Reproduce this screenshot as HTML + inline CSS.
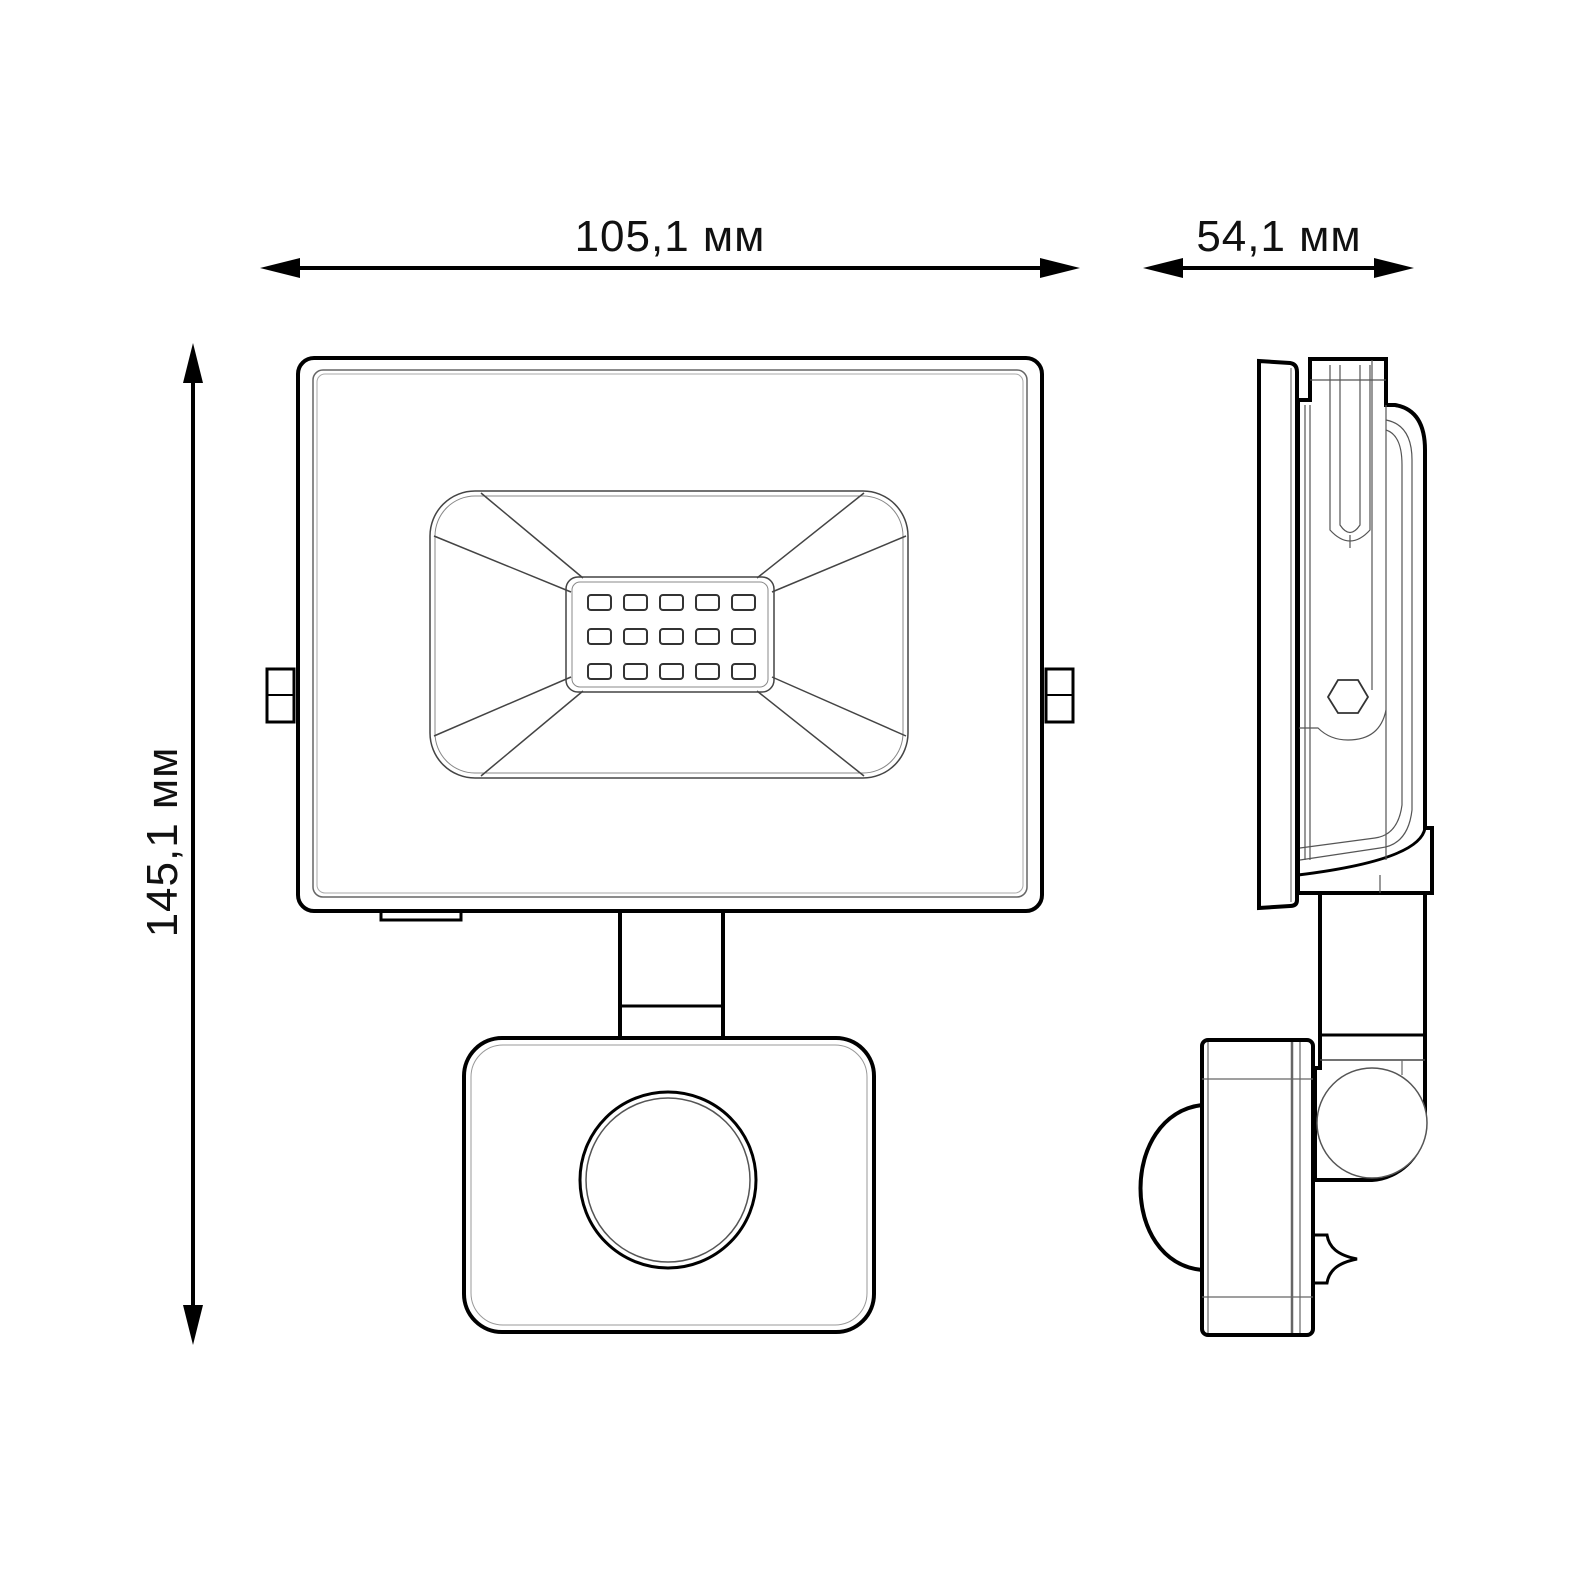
<!DOCTYPE html>
<html><head><meta charset="utf-8"><style>
html,body{margin:0;padding:0;background:#fff;}
svg{display:block;}
text{font-family:"Liberation Sans",sans-serif;fill:#111;letter-spacing:1px;}
</style></head><body>
<svg width="1575" height="1575" viewBox="0 0 1575 1575" xmlns="http://www.w3.org/2000/svg">
<!-- dimension lines -->
<g fill="#000" stroke="none">
<rect x="285" y="266" width="770" height="4"/>
<polygon points="260,268 300,258 300,278"/>
<polygon points="1080,268 1040,258 1040,278"/>
<rect x="1168" y="266" width="222" height="4"/>
<polygon points="1143,268 1183,258 1183,278"/>
<polygon points="1414,268 1374,258 1374,278"/>
<rect x="191" y="368" width="4" height="952"/>
<polygon points="193,343 183,383 203,383"/>
<polygon points="193,1345 183,1305 203,1305"/>
</g>
<text x="670" y="251" font-size="44" text-anchor="middle">105,1 мм</text>
<text x="1279" y="251" font-size="44" text-anchor="middle">54,1 мм</text>
<text transform="translate(177,842) rotate(-90)" x="0" y="0" font-size="44" text-anchor="middle">145,1 мм</text>

<!-- FRONT VIEW -->
<g fill="none" stroke="#000">
<rect x="267" y="669" width="27" height="53" stroke-width="3"/>
<line x1="267" y1="695" x2="294" y2="695" stroke-width="2"/>
<rect x="1046" y="669" width="27" height="53" stroke-width="3"/>
<line x1="1046" y1="695" x2="1073" y2="695" stroke-width="2"/>
<rect x="298" y="358" width="744" height="553" rx="16" stroke-width="4" fill="#fff"/>
<rect x="313" y="370" width="714" height="527" rx="10" stroke-width="1.5" stroke="#666"/>
<rect x="317" y="374" width="706" height="519" rx="8" stroke-width="1" stroke="#aaa"/>
<path d="M381 911 v9 h80 v-9" stroke-width="3"/>
<rect x="620" y="911" width="103" height="128" stroke-width="4" fill="#fff"/>
<line x1="620" y1="1006" x2="723" y2="1006" stroke-width="3"/>
<rect x="464" y="1038" width="410" height="294" rx="38" stroke-width="4" fill="#fff"/>
<rect x="471" y="1045" width="396" height="280" rx="32" stroke-width="1" stroke="#999"/>
<circle cx="668" cy="1180" r="88" stroke-width="3"/>
<circle cx="668" cy="1180" r="82" stroke-width="1.5" stroke="#555"/>
<g stroke-width="1.5" stroke="#444">
<rect x="430" y="491" width="478" height="287" rx="45"/>
<rect x="435" y="496" width="468" height="277" rx="40" stroke="#888" stroke-width="1"/>
<rect x="566" y="577" width="208" height="115" rx="12"/>
<rect x="572" y="582" width="196" height="105" rx="8" stroke="#888" stroke-width="1"/>
<line x1="481" y1="493" x2="583" y2="578"/>
<line x1="434" y1="536" x2="571" y2="592"/>
<line x1="864" y1="493" x2="757" y2="578"/>
<line x1="906" y1="536" x2="772" y2="592"/>
<line x1="481" y1="776" x2="583" y2="691"/>
<line x1="434" y1="736" x2="571" y2="677"/>
<line x1="864" y1="776" x2="757" y2="691"/>
<line x1="906" y1="736" x2="772" y2="677"/>
</g>
<g stroke-width="2" stroke="#333">
<rect x="588" y="595" width="23" height="15" rx="3"/><rect x="624" y="595" width="23" height="15" rx="3"/><rect x="660" y="595" width="23" height="15" rx="3"/><rect x="696" y="595" width="23" height="15" rx="3"/><rect x="732" y="595" width="23" height="15" rx="3"/>
<rect x="588" y="629" width="23" height="15" rx="3"/><rect x="624" y="629" width="23" height="15" rx="3"/><rect x="660" y="629" width="23" height="15" rx="3"/><rect x="696" y="629" width="23" height="15" rx="3"/><rect x="732" y="629" width="23" height="15" rx="3"/>
<rect x="588" y="664" width="23" height="15" rx="3"/><rect x="624" y="664" width="23" height="15" rx="3"/><rect x="660" y="664" width="23" height="15" rx="3"/><rect x="696" y="664" width="23" height="15" rx="3"/><rect x="732" y="664" width="23" height="15" rx="3"/>
</g>
</g>

<!-- SIDE VIEW -->
<g fill="none" stroke="#000">
<!-- arm + pivot -->
<path d="M1320 893 V1068 H1315 V1180 H1372 A57 57 0 0 0 1425 1123 V893 Z" stroke-width="4" fill="#fff"/>
<line x1="1320" y1="1035" x2="1425" y2="1035" stroke-width="3"/>
<line x1="1320" y1="1060" x2="1425" y2="1060" stroke-width="1.5" stroke="#444"/>
<line x1="1402" y1="1060" x2="1402" y2="1075" stroke-width="1.2" stroke="#666"/>
<circle cx="1372" cy="1123" r="55" stroke-width="1.5" stroke="#555" fill="#fff"/>
<!-- dome -->
<path d="M1202 1105 C1120 1115 1120 1262 1202 1270" stroke-width="4" fill="#fff"/>
<!-- nub -->
<path d="M1313 1235 h14 c2 12 10 20 30 24 c-20 4 -28 12 -30 24 h-14" stroke-width="3" fill="#fff"/>
<!-- sensor box -->
<rect x="1202" y="1040" width="111" height="295" rx="6" stroke-width="4" fill="#fff"/>
<g stroke-width="1.2" stroke="#666">
<line x1="1208" y1="1042" x2="1208" y2="1333"/>
<line x1="1292" y1="1042" x2="1292" y2="1333" stroke-width="2.5"/>
<line x1="1300" y1="1042" x2="1300" y2="1333"/>
<line x1="1202" y1="1079" x2="1313" y2="1079"/>
<line x1="1202" y1="1297" x2="1313" y2="1297"/>
</g>
<!-- housing -->
<path d="M1298 400 H1310 V359 H1386 V405 H1395 Q1425 410 1425 450 V828 L1432 828 V893 H1298 Z" stroke-width="4" fill="#fff"/>
<path d="M1298 875 Q1420 860 1425 828" stroke-width="3"/>
<g stroke-width="1.2" stroke="#555">
<path d="M1386 420 Q1412 425 1412 460 V810 Q1408 845 1380 848 L1300 860"/>
<path d="M1386 430 Q1402 435 1402 465 V805 Q1398 835 1375 838 L1300 848"/>
<line x1="1310" y1="405" x2="1310" y2="860"/>
<line x1="1305" y1="405" x2="1305" y2="860"/>
<line x1="1310" y1="380" x2="1386" y2="380"/>
<path d="M1330 365 V530 Q1350 552 1370 530 V365"/>
<path d="M1340 365 V525 Q1350 540 1360 525 V365"/>
<line x1="1350" y1="535" x2="1350" y2="548"/>
<line x1="1386" y1="405" x2="1386" y2="860"/>
<line x1="1372" y1="360" x2="1372" y2="690"/>
<path d="M1298 728 H1318 Q1330 740 1348 740 Q1380 740 1386 710"/>
<polygon points="1328,697 1338,680 1358,680 1368,697 1358,713 1338,713" stroke-width="1.8" stroke="#333"/>
<line x1="1380" y1="875" x2="1380" y2="893"/>
</g>
<!-- front plate -->
<path d="M1259 361 L1290 363 Q1297 364 1297 372 V900 Q1297 906 1290 906 L1259 908 Z" stroke-width="4" fill="#fff"/>
<line x1="1291" y1="368" x2="1291" y2="902" stroke-width="1.2" stroke="#777"/>
</g>
</svg>
</body></html>
